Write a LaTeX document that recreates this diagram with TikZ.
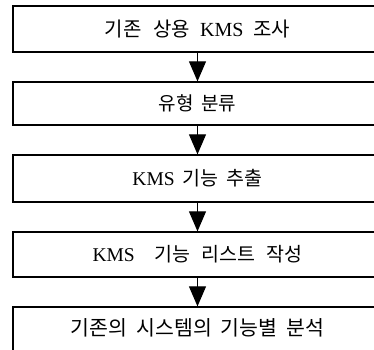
\documentclass[tikz,border=0pt]{standalone}
\usepackage{fontspec}
\setmainfont{Liberation Serif}
\newfontfamily\kr{Noto Sans CJK KR}
\usetikzlibrary{arrows.meta}
\newcommand{\fs}[1]{\fontsize{#1pt}{#1pt}\selectfont}
\newcommand{\gap}[1]{\hspace{#1pt}}
\tikzset{
  stepbox/.style={draw=black, line width=1.3pt, minimum width=369pt, inner sep=0pt},
  flow/.style={line width=1pt, -{Triangle[width=17pt,length=20pt]}}
}
\begin{document}
\begin{tikzpicture}[x=1pt,y=1pt]
\useasboundingbox (0,0) rectangle (374,-349);
\clip (0,0) rectangle (374,-349);
\node[stepbox, minimum height=46pt, font=\fs{20}] (b1) at (197.5,-29)
  {{\kr 기존}\gap{12}{\kr 상용}\gap{10}KMS\gap{10}{\kr 조사}};
\node[stepbox, minimum height=43pt, font=\fs{19}] (b2) at (197.5,-103.5)
  {{\kr 유형}\gap{8}{\kr 분류}};
\node[stepbox, minimum height=47pt, font=\fs{19.5}] (b3) at (197.5,-178.5)
  {KMS\gap{8}{\kr 기능}\gap{8}{\kr 추출}};
\node[stepbox, minimum height=45pt, font=\fs{19.5}] (b4) at (197.5,-254.5)
  {KMS\gap{20}{\kr 기능}\gap{11}{\kr 리스트}\gap{11}{\kr 작성}};
\node[stepbox, minimum height=45pt, font=\fs{20.5}] (b5) at (197.5,-329.5)
  {\raisebox{4pt}{{\kr 기존의}\gap{9}{\kr 시스템의}\gap{9}{\kr 기능별}\gap{9}{\kr 분석}}};
\draw[flow] (b1.south) -- (b2.north);
\draw[flow] (b2.south) -- (b3.north);
\draw[flow] (b3.south) -- (b4.north);
\draw[flow] (b4.south) -- (b5.north);
\end{tikzpicture}
\end{document}
